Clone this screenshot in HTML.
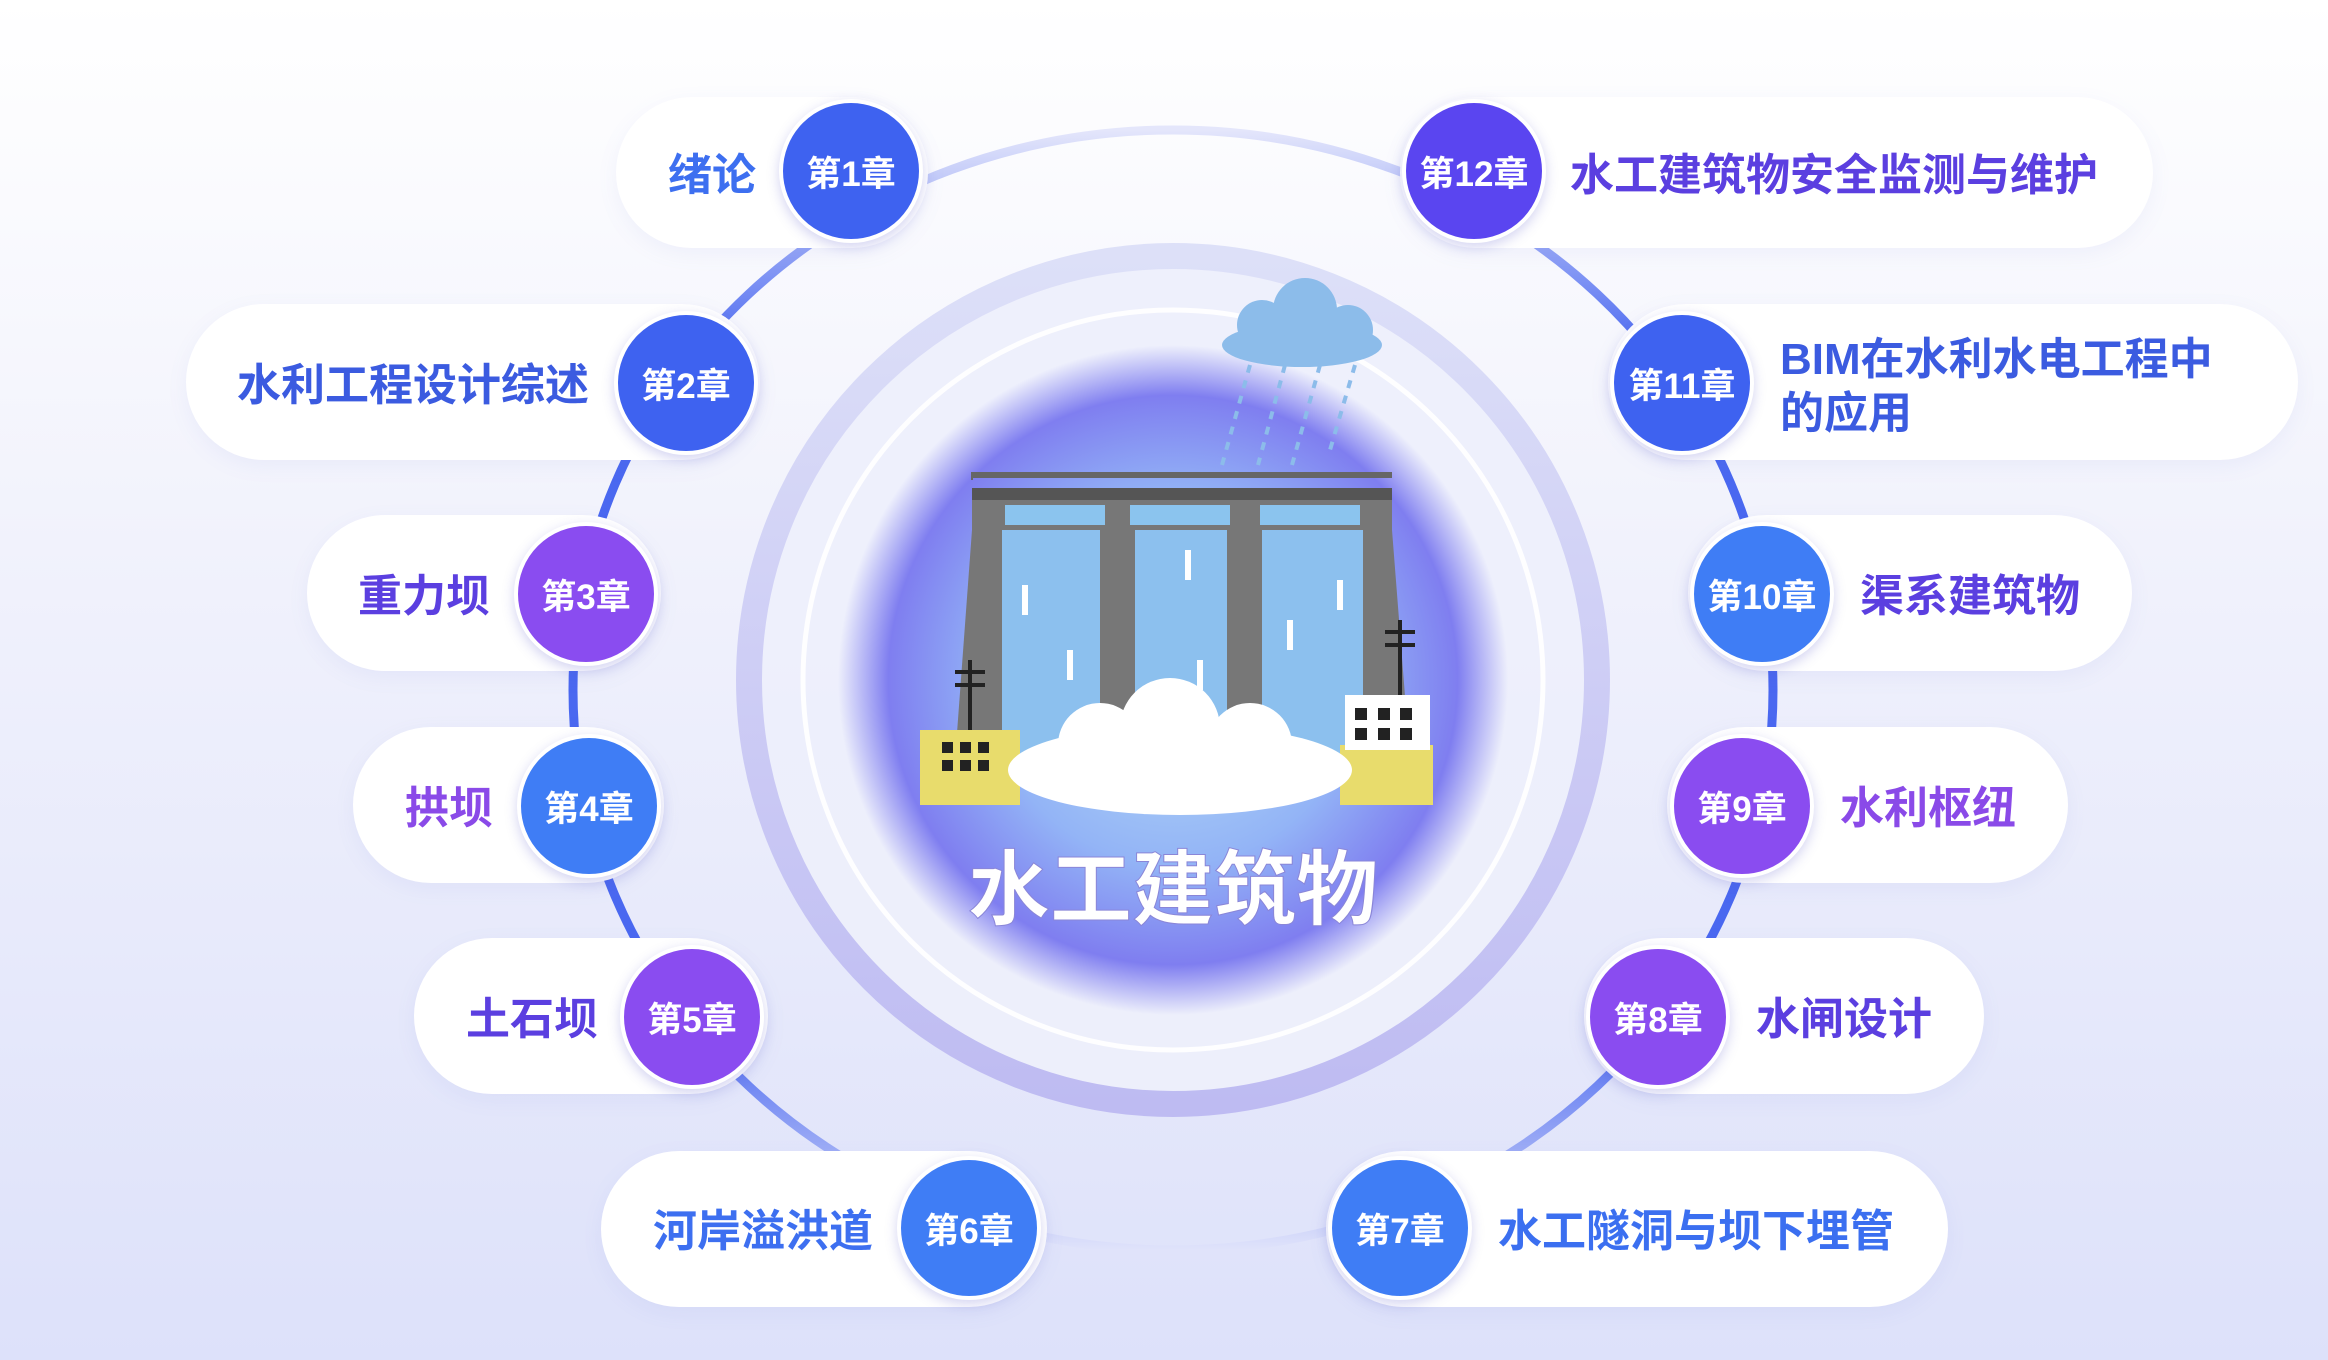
<!DOCTYPE html>
<html><head><meta charset="utf-8"><style>
html,body{margin:0;padding:0}
body{width:2328px;height:1360px;position:relative;overflow:hidden;background:linear-gradient(180deg,#ffffff 0%,#f1f2fc 40%,#dde1fa 100%);font-family:"Liberation Sans","Noto Sans CJK SC",sans-serif}
.pill{position:absolute;background:#fff;border-radius:80px;box-shadow:0 6px 20px rgba(120,130,220,0.08)}
.lab{position:absolute;font-size:44px;font-weight:bold;white-space:nowrap;line-height:54px}
.c{position:absolute;width:144px;height:144px;border-radius:50%;border:4px solid #fff;box-sizing:border-box;color:#fff;font-weight:bold;font-size:35px;display:flex;align-items:center;justify-content:center;box-shadow:0 4px 12px rgba(80,80,200,0.25)}
.b{background:#3e62f0}.p{background:#8a4cf0}.i{background:#5a45f0}.l{background:#3f7df5}
</style></head><body>
<svg width="2328" height="1360" style="position:absolute;left:0;top:0">
<defs>
<linearGradient id="og" x1="0" y1="0" x2="0" y2="1">
<stop offset="0" stop-color="#e4e6fb"/><stop offset="0.2" stop-color="#4a68f0"/><stop offset="0.8" stop-color="#4a68f0"/><stop offset="1" stop-color="#e0e3fa"/></linearGradient>
<radialGradient id="glow" cx="0.5" cy="0.5" r="0.5">
<stop offset="0" stop-color="#b8def8"/><stop offset="0.55" stop-color="#93b4f6"/><stop offset="0.85" stop-color="#7f7ef0"/><stop offset="1" stop-color="#7f7ef0" stop-opacity="0"/></radialGradient>
<linearGradient id="rg" x1="0" y1="0" x2="0" y2="1"><stop offset="0" stop-color="#dcdff8"/><stop offset="1" stop-color="#bdb9f2"/></linearGradient>
</defs>
<ellipse cx="1173" cy="690" rx="600" ry="560" fill="none" stroke="url(#og)" stroke-width="9"/>
<circle cx="1173" cy="680" r="424" fill="#eef0fc" stroke="url(#rg)" stroke-width="26" opacity="0.95"/>
<circle cx="1173" cy="680" r="370" fill="none" stroke="#fff" stroke-width="5" opacity="0.9"/>
<circle cx="1173" cy="680" r="335" fill="url(#glow)"/>
<!-- dam -->
<rect x="972" y="472" width="420" height="6" fill="#666"/>
<g stroke="#666" stroke-width="2"><line x1="972" y1="472" x2="972" y2="480"/></g>
<rect x="972" y="488" width="420" height="12" fill="#555"/>
<rect x="972" y="500" width="420" height="32" fill="#777"/>
<rect x="1005" y="505" width="100" height="20" fill="#8bc4ee"/><rect x="1130" y="505" width="100" height="20" fill="#8bc4ee"/><rect x="1260" y="505" width="100" height="20" fill="#8bc4ee"/>
<polygon points="972,530 1002,530 1002,760 955,760" fill="#777"/>
<polygon points="1363,530 1392,530 1410,760 1363,760" fill="#777"/>
<rect x="1100" y="525" width="35" height="235" fill="#777"/><rect x="1227" y="525" width="35" height="235" fill="#777"/>
<rect x="1002" y="530" width="98" height="230" fill="#8cc0ee"/><rect x="1135" y="530" width="92" height="230" fill="#8cc0ee"/><rect x="1262" y="530" width="101" height="230" fill="#8cc0ee"/>
<g stroke="#fff" stroke-width="6"><line x1="1025" y1="585" x2="1025" y2="615"/><line x1="1188" y1="550" x2="1188" y2="580"/><line x1="1340" y1="580" x2="1340" y2="610"/><line x1="1070" y1="650" x2="1070" y2="680"/><line x1="1290" y1="620" x2="1290" y2="650"/><line x1="1200" y1="660" x2="1200" y2="690"/></g>
<rect x="920" y="730" width="100" height="75" fill="#e8dc6c"/><rect x="1340" y="745" width="93" height="60" fill="#e8dc6c"/>
<rect x="1345" y="695" width="85" height="55" fill="#fff"/>
<g fill="#222"><rect x="1355" y="708" width="12" height="12"/><rect x="1378" y="708" width="12" height="12"/><rect x="1400" y="708" width="12" height="12"/><rect x="1355" y="728" width="12" height="12"/><rect x="1378" y="728" width="12" height="12"/><rect x="1400" y="728" width="12" height="12"/>
<rect x="942" y="742" width="11" height="11"/><rect x="960" y="742" width="11" height="11"/><rect x="978" y="742" width="11" height="11"/><rect x="942" y="760" width="11" height="11"/><rect x="960" y="760" width="11" height="11"/><rect x="978" y="760" width="11" height="11"/></g>
<g stroke="#222" stroke-width="4"><line x1="970" y1="660" x2="970" y2="730"/><line x1="955" y1="672" x2="985" y2="672"/><line x1="955" y1="685" x2="985" y2="685"/><line x1="1400" y1="620" x2="1400" y2="695"/><line x1="1385" y1="632" x2="1415" y2="632"/><line x1="1385" y1="645" x2="1415" y2="645"/></g>
<ellipse cx="1180" cy="770" rx="172" ry="45" fill="#fff"/><circle cx="1100" cy="745" r="42" fill="#fff"/><circle cx="1170" cy="728" r="50" fill="#fff"/><circle cx="1250" cy="745" r="42" fill="#fff"/>
<g stroke="#8cbcea" stroke-width="4" stroke-dasharray="8 8"><line x1="1250" y1="365" x2="1222" y2="465"/><line x1="1285" y1="365" x2="1258" y2="465"/><line x1="1320" y1="365" x2="1292" y2="465"/><line x1="1355" y1="365" x2="1330" y2="450"/></g>
<ellipse cx="1302" cy="345" rx="80" ry="22" fill="#8cbcea"/><circle cx="1262" cy="325" r="25" fill="#8cbcea"/><circle cx="1305" cy="310" r="32" fill="#8cbcea"/><circle cx="1348" cy="330" r="25" fill="#8cbcea"/>
<text x="1173" y="918" text-anchor="middle" font-size="82" font-weight="bold" fill="#fff" style="font-family:'Liberation Sans','Noto Sans CJK SC',sans-serif" stroke="#8a86d8" stroke-width="1">水工建筑物</text>
</svg>

<div class="pill" style="left:616px;top:97px;width:312px;height:151px"></div>
<div class="lab" style="left:668px;top:149px;color:#3d6ff0">绪论</div>
<div class="c b" style="left:779px;top:99px">第1章</div>

<div class="pill" style="left:186px;top:304px;width:574px;height:156px"></div>
<div class="lab" style="left:237px;top:359px;color:#3b5be0">水利工程设计综述</div>
<div class="c b" style="left:614px;top:311px">第2章</div>

<div class="pill" style="left:307px;top:515px;width:354px;height:156px"></div>
<div class="lab" style="left:358px;top:570px;color:#5b3fe0">重力坝</div>
<div class="c p" style="left:514px;top:522px">第3章</div>

<div class="pill" style="left:353px;top:727px;width:311px;height:156px"></div>
<div class="lab" style="left:405px;top:782px;color:#8a4ae8">拱坝</div>
<div class="c l" style="left:517px;top:734px">第4章</div>

<div class="pill" style="left:414px;top:938px;width:354px;height:156px"></div>
<div class="lab" style="left:466px;top:993px;color:#5b3fe0">土石坝</div>
<div class="c p" style="left:620px;top:945px">第5章</div>

<div class="pill" style="left:601px;top:1151px;width:446px;height:156px"></div>
<div class="lab" style="left:653px;top:1205px;color:#3d6ff0">河岸溢洪道</div>
<div class="c l" style="left:897px;top:1156px">第6章</div>

<div class="pill" style="left:1326px;top:1151px;width:622px;height:156px"></div>
<div class="c l" style="left:1328px;top:1156px">第7章</div>
<div class="lab" style="left:1498px;top:1205px;color:#3b6ff0">水工隧洞与坝下埋管</div>

<div class="pill" style="left:1584px;top:938px;width:400px;height:156px"></div>
<div class="c p" style="left:1586px;top:945px">第8章</div>
<div class="lab" style="left:1756px;top:993px;color:#5b3fe0">水闸设计</div>

<div class="pill" style="left:1667px;top:727px;width:401px;height:156px"></div>
<div class="c p" style="left:1670px;top:734px">第9章</div>
<div class="lab" style="left:1840px;top:782px;color:#8a4ae8">水利枢纽</div>

<div class="pill" style="left:1688px;top:515px;width:444px;height:156px"></div>
<div class="c l" style="left:1690px;top:522px">第10章</div>
<div class="lab" style="left:1860px;top:570px;color:#5b3fe0">渠系建筑物</div>

<div class="pill" style="left:1608px;top:304px;width:690px;height:156px"></div>
<div class="c b" style="left:1610px;top:311px">第11章</div>
<div class="lab" style="left:1780px;top:333px;color:#3b5be0">BIM在水利水电工程中<br>的应用</div>

<div class="pill" style="left:1400px;top:97px;width:753px;height:151px"></div>
<div class="c i" style="left:1402px;top:99px">第12章</div>
<div class="lab" style="left:1570px;top:149px;color:#5b3fe0">水工建筑物安全监测与维护</div>
</body></html>
